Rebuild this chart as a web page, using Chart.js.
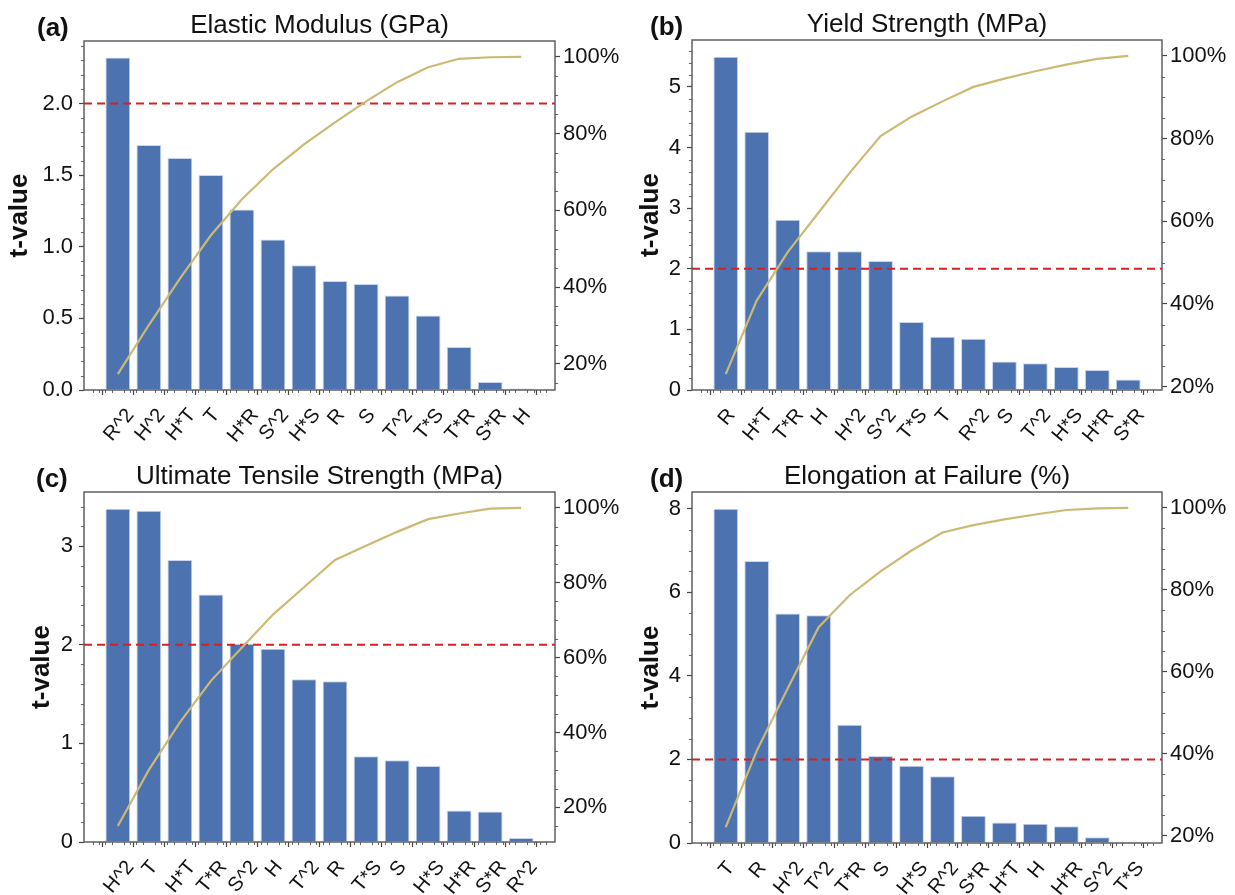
<!DOCTYPE html>
<html>
<head>
<meta charset="utf-8">
<script src="https://cdn.jsdelivr.net/npm/chart.js"></script>
<style>
  body { margin: 0; background: #fff; }
  #wrap { position: relative; width: 1235px; height: 895px; overflow: hidden; }
  canvas { position: absolute; }
</style>
</head>
<body>
<div id="wrap">
  <canvas id="cA" width="640" height="450" style="left:0;top:0"></canvas>
  <canvas id="cB" width="627" height="450" style="left:608px;top:0"></canvas>
  <canvas id="cC" width="640" height="445" style="left:0;top:450px"></canvas>
  <canvas id="cD" width="627" height="445" style="left:608px;top:450px"></canvas>
</div>
<script>
// (a) Elastic Modulus
const catsA = ['R^2', 'H^2', 'H*T', 'T', 'H*R', 'S^2', 'H*S', 'R', 'S', 'T^2', 'T*S', 'T*R', 'S*R', 'H'];
const tA = [2.32, 1.71, 1.62, 1.50, 1.26, 1.05, 0.87, 0.76, 0.74, 0.66, 0.52, 0.30, 0.055, 0.01];
const cumA = [17.3, 30.1, 42.2, 53.5, 62.9, 70.7, 77.2, 82.9, 88.4, 93.4, 97.3, 99.5, 99.9, 100];
const yTicksA = [0, 0.5, 1.0, 1.5, 2.0];

// (b) Yield Strength
const catsB = ['R', 'H*T', 'T*R', 'H', 'H^2', 'S^2', 'T*S', 'T', 'R^2', 'S', 'T^2', 'H*S', 'H*R', 'S*R'];
const tB = [5.50, 4.26, 2.81, 2.29, 2.29, 2.13, 1.12, 0.88, 0.845, 0.47, 0.44, 0.38, 0.33, 0.175];
const cumB = [23.0, 40.8, 52.5, 62.1, 71.7, 80.6, 85.3, 89.0, 92.5, 94.5, 96.3, 97.9, 99.3, 100];
const yTicksB = [0, 1, 2, 3, 4, 5];

// (c) Ultimate Tensile Strength
const catsC = ['H^2', 'T', 'H*T', 'T*R', 'S^2', 'H', 'T^2', 'R', 'T*S', 'S', 'H*S', 'H*R', 'S*R', 'R^2'];
const tC = [3.38, 3.36, 2.86, 2.51, 2.01, 1.96, 1.65, 1.63, 0.87, 0.83, 0.77, 0.32, 0.31, 0.04];
const cumC = [15.0, 30.0, 42.7, 53.8, 62.7, 71.5, 78.8, 86.1, 89.9, 93.6, 97.0, 98.5, 99.8, 100];
const yTicksC = [0, 1, 2, 3];

// (d) Elongation at Failure
const catsD = ['T', 'R', 'H^2', 'T^2', 'T*R', 'S', 'H*S', 'R^2', 'S*R', 'H*T', 'H', 'H*R', 'S^2', 'T*S'];
const tD = [8.0, 6.75, 5.49, 5.45, 2.83, 2.08, 1.85, 1.60, 0.65, 0.49, 0.46, 0.40, 0.14, 0.025];
const cumD = [22.1, 40.7, 55.9, 70.9, 78.7, 84.5, 89.6, 94.0, 95.8, 97.2, 98.4, 99.5, 99.9, 100];
const yTicksD = [0, 2, 4, 6, 8];

const pctTicks = [20, 40, 60, 80, 100];
const threshold = 2;

const FONT = '"Liberation Sans", Arial, sans-serif';
Chart.defaults.font.family = FONT;
Chart.defaults.color = '#111';

const panels = [
  { canvas: 'cA', tag: '(a)', title: 'Elastic Modulus (GPa)', cats: catsA, t: tA, cum: cumA, yTicks: yTicksA,
    dec: 1, minor: 0.1, top: 41, yw: 84, y1w: 85, xh: 60, tagX: 37, ylabOff: 64 },
  { canvas: 'cB', tag: '(b)', title: 'Yield Strength (MPa)', cats: catsB, t: tB, cum: cumB, yTicks: yTicksB,
    dec: 0, minor: 0.2, top: 40, yw: 84, y1w: 73, xh: 60, tagX: 42, ylabOff: 41 },
  { canvas: 'cC', tag: '(c)', title: 'Ultimate Tensile Strength (MPa)', cats: catsC, t: tC, cum: cumC, yTicks: yTicksC,
    dec: 0, minor: 0.2, top: 42, yw: 84, y1w: 85, xh: 53, tagX: 36, ylabOff: 42 },
  { canvas: 'cD', tag: '(d)', title: 'Elongation at Failure (%)', cats: catsD, t: tD, cum: cumD, yTicks: yTicksD,
    dec: 0, minor: 0.5, top: 42, yw: 84, y1w: 73, xh: 52, tagX: 42, ylabOff: 41 }
];

function isMajor(v, step) {
  const r = v / step;
  return Math.abs(r - Math.round(r)) < 1e-6;
}

// frame, minor ticks, rotated x labels, titles
const deco = {
  id: 'deco',
  afterDraw(chart, args, opts) {
    const p = opts.panel;
    const { ctx, chartArea: a, scales } = chart;
    ctx.save();

    // minor ticks
    ctx.strokeStyle = '#666';
    ctx.lineWidth = 1;
    ctx.beginPath();
    const ys = scales.y;
    const majY = p.yTicks[1] - p.yTicks[0];
    for (let v = 0; v <= ys.max + 1e-9; v += p.minor) {
      if (isMajor(v, majY)) continue;
      const y = Math.round(ys.getPixelForValue(v)) + 0.5;
      ctx.moveTo(a.left, y); ctx.lineTo(a.left - 3, y);
    }
    const y1 = scales.y1;
    for (let v = Math.ceil(y1.min / 5) * 5; v <= y1.max; v += 5) {
      if (isMajor(v, 20)) continue;
      const y = Math.round(y1.getPixelForValue(v)) + 0.5;
      ctx.moveTo(a.right, y); ctx.lineTo(a.right + 3, y);
    }
    const xs = scales.x;
    for (let v = Math.ceil(xs.min / 0.2) * 0.2; v <= xs.max; v += 0.2) {
      if (isMajor(v, 1)) continue;
      const x = Math.round(xs.getPixelForValue(v)) + 0.5;
      ctx.moveTo(x, a.bottom); ctx.lineTo(x, a.bottom + 3);
    }
    ctx.stroke();

    // frame
    ctx.strokeStyle = '#555';
    ctx.lineWidth = 1.4;
    ctx.strokeRect(a.left, a.top, a.right - a.left, a.bottom - a.top);

    // x labels, rotated with their box centred on the tick
    const fs = 20;
    const th = 50 * Math.PI / 180;
    ctx.font = fs + 'px ' + FONT;
    ctx.fillStyle = '#111';
    ctx.textAlign = 'center';
    ctx.textBaseline = 'alphabetic';
    const capH = fs * 0.72;
    p.cats.forEach((c, i) => {
      const x = xs.getPixelForValue(i);
      const w = ctx.measureText(c).width;
      const bh = w * Math.sin(th) + capH * Math.cos(th);
      ctx.save();
      ctx.translate(x, a.bottom + 16 + bh / 2);
      ctx.rotate(-th);
      ctx.fillText(c, 0, capH / 2);
      ctx.restore();
    });

    // title
    ctx.font = '26px ' + FONT;
    ctx.fillText(p.title, (a.left + a.right) / 2, a.top - 8.5);

    // panel tag
    ctx.font = 'bold 26px ' + FONT;
    ctx.textAlign = 'left';
    ctx.fillText(p.tag, p.tagX, a.top - 5.5);

    // y title
    ctx.save();
    ctx.translate(a.left - p.ylabOff, (a.top + a.bottom) / 2);
    ctx.rotate(-Math.PI / 2);
    ctx.textAlign = 'center';
    ctx.textBaseline = 'middle';
    ctx.font = 'bold 26px ' + FONT;
    ctx.fillText('t-value', 0, 0);
    ctx.restore();

    ctx.restore();
  }
};

function makeChart(p) {
  const n = p.t.length;
  const xmin = -0.4 - 0.05 * (n - 1 + 0.8);
  const xmax = n - 1 + 0.4 + 0.05 * (n - 1 + 0.8);
  const tmax = Math.max(...p.t) * 1.05;
  const cmin = Math.min(...p.cum);
  const span = Math.max(...p.cum) - cmin;
  const tickGrid = { display: true, drawOnChartArea: false, drawTicks: true, tickLength: 5, tickColor: '#444', tickWidth: 1.2 };

  new Chart(document.getElementById(p.canvas), {
    type: 'bar',
    data: {
      datasets: [
        {
          type: 'line',
          data: [{ x: xmin, y: threshold }, { x: xmax, y: threshold }],
          borderColor: '#d42222',
          borderDash: [8, 5],
          borderWidth: 2,
          pointRadius: 0,
          yAxisID: 'y',
          order: 2
        },
        {
          type: 'line',
          data: p.cum.map((v, i) => ({ x: i, y: v })),
          borderColor: '#ccb974',
          borderWidth: 2.2,
          pointRadius: 0,
          tension: 0,
          yAxisID: 'y1',
          order: 1
        },
        {
          type: 'bar',
          data: p.t.map((v, i) => ({ x: i, y: v })),
          backgroundColor: '#4c72b0',
          borderColor: '#c8d5ee',
          borderWidth: 1,
          barPercentage: 0.8,
          categoryPercentage: 1,
          yAxisID: 'y',
          order: 3
        }
      ]
    },
    options: {
      responsive: false,
      animation: false,
      events: [],
      layout: { padding: { top: p.top, left: 0, right: 0, bottom: 0 } },
      plugins: {
        legend: { display: false },
        tooltip: { enabled: false },
        deco: { panel: p }
      },
      scales: {
        x: {
          type: 'linear',
          offset: false,
          min: xmin,
          max: xmax,
          afterBuildTicks: s => { s.ticks = p.cats.map((c, i) => ({ value: i })); },
          afterFit: s => { s.height = p.xh; },
          grid: tickGrid,
          border: { display: false },
          ticks: { callback: () => '', maxRotation: 0, autoSkip: false }
        },
        y: {
          position: 'left',
          min: 0,
          max: tmax,
          afterBuildTicks: s => { s.ticks = p.yTicks.map(v => ({ value: v })); },
          afterFit: s => { s.width = p.yw; },
          grid: tickGrid,
          border: { display: false },
          ticks: { callback: v => Number(v).toFixed(p.dec), font: { size: 22 }, color: '#111', padding: 6 }
        },
        y1: {
          position: 'right',
          min: cmin - 0.05 * span,
          max: 100 + 0.05 * span,
          afterBuildTicks: s => { s.ticks = pctTicks.map(v => ({ value: v })); },
          afterFit: s => { s.width = p.y1w; },
          grid: tickGrid,
          border: { display: false },
          ticks: { callback: v => v + '%', font: { size: 22 }, color: '#111', padding: 3 }
        }
      }
    },
    plugins: [deco]
  });
}

panels.forEach(makeChart);
</script>
</body>
</html>
